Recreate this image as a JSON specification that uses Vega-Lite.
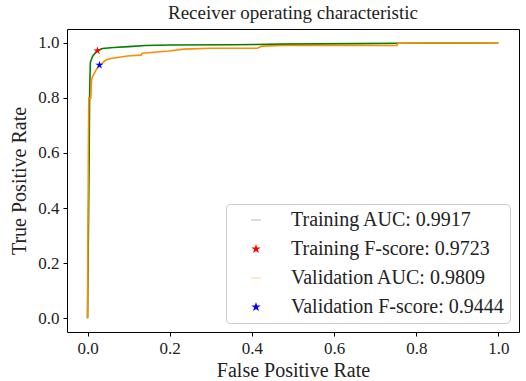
{
  "$schema": "https://vega.github.io/schema/vega-lite/v6.json",
  "width": 452,
  "height": 303,
  "autosize": {"type": "none"},
  "padding": {"left": 67, "top": 29, "right": 7, "bottom": 49},
  "background": "white",
  "title": {"text": "Receiver operating characteristic", "font": "Liberation Serif", "fontSize": 19, "fontWeight": "normal", "color": "#222", "offset": 6},
  "config": {
    "view": {"stroke": "black", "strokeWidth": 1},
    "axis": {"grid": false, "labelFont": "Liberation Serif", "titleFont": "Liberation Serif", "labelFontSize": 17, "titleFontSize": 20, "titleFontWeight": "normal", "labelColor": "#222", "titleColor": "#222", "tickColor": "black", "domain": false, "tickSize": 4, "labelPadding": 4}
  },
  "layer": [
    {
      "data": {"values": [
      {"series": "Training AUC: 0.9917", "fpr": 0.0, "tpr": 0.0},
      {"series": "Training AUC: 0.9917", "fpr": 0.004, "tpr": 0.6},
      {"series": "Training AUC: 0.9917", "fpr": 0.005, "tpr": 0.8},
      {"series": "Training AUC: 0.9917", "fpr": 0.006, "tpr": 0.88},
      {"series": "Training AUC: 0.9917", "fpr": 0.007, "tpr": 0.93},
      {"series": "Training AUC: 0.9917", "fpr": 0.012, "tpr": 0.95},
      {"series": "Training AUC: 0.9917", "fpr": 0.018, "tpr": 0.962},
      {"series": "Training AUC: 0.9917", "fpr": 0.024, "tpr": 0.971},
      {"series": "Training AUC: 0.9917", "fpr": 0.036, "tpr": 0.979},
      {"series": "Training AUC: 0.9917", "fpr": 0.064, "tpr": 0.983},
      {"series": "Training AUC: 0.9917", "fpr": 0.1, "tpr": 0.986},
      {"series": "Training AUC: 0.9917", "fpr": 0.14, "tpr": 0.99},
      {"series": "Training AUC: 0.9917", "fpr": 0.2, "tpr": 0.992},
      {"series": "Training AUC: 0.9917", "fpr": 0.35, "tpr": 0.993},
      {"series": "Training AUC: 0.9917", "fpr": 0.47, "tpr": 0.995},
      {"series": "Training AUC: 0.9917", "fpr": 0.66, "tpr": 0.997},
      {"series": "Training AUC: 0.9917", "fpr": 0.76, "tpr": 0.998},
      {"series": "Training AUC: 0.9917", "fpr": 1.0, "tpr": 1.0},
      {"series": "Validation AUC: 0.9809", "fpr": 0.0, "tpr": 0.0},
      {"series": "Validation AUC: 0.9809", "fpr": 0.002, "tpr": 0.6},
      {"series": "Validation AUC: 0.9809", "fpr": 0.003, "tpr": 0.8},
      {"series": "Validation AUC: 0.9809", "fpr": 0.008, "tpr": 0.8},
      {"series": "Validation AUC: 0.9809", "fpr": 0.01, "tpr": 0.87},
      {"series": "Validation AUC: 0.9809", "fpr": 0.02, "tpr": 0.9},
      {"series": "Validation AUC: 0.9809", "fpr": 0.029, "tpr": 0.918},
      {"series": "Validation AUC: 0.9809", "fpr": 0.036, "tpr": 0.926},
      {"series": "Validation AUC: 0.9809", "fpr": 0.044, "tpr": 0.937},
      {"series": "Validation AUC: 0.9809", "fpr": 0.056, "tpr": 0.943},
      {"series": "Validation AUC: 0.9809", "fpr": 0.097, "tpr": 0.952},
      {"series": "Validation AUC: 0.9809", "fpr": 0.13, "tpr": 0.955},
      {"series": "Validation AUC: 0.9809", "fpr": 0.133, "tpr": 0.962},
      {"series": "Validation AUC: 0.9809", "fpr": 0.198, "tpr": 0.97},
      {"series": "Validation AUC: 0.9809", "fpr": 0.234, "tpr": 0.977},
      {"series": "Validation AUC: 0.9809", "fpr": 0.3, "tpr": 0.98},
      {"series": "Validation AUC: 0.9809", "fpr": 0.413, "tpr": 0.98},
      {"series": "Validation AUC: 0.9809", "fpr": 0.425, "tpr": 0.988},
      {"series": "Validation AUC: 0.9809", "fpr": 0.474, "tpr": 0.99},
      {"series": "Validation AUC: 0.9809", "fpr": 0.753, "tpr": 0.99},
      {"series": "Validation AUC: 0.9809", "fpr": 0.755, "tpr": 0.998},
      {"series": "Validation AUC: 0.9809", "fpr": 1.0, "tpr": 1.0}
      ]},
      "mark": {"type": "line", "strokeWidth": 1.6},
      "encoding": {
        "x": {"field": "fpr", "type": "quantitative", "scale": {"domain": [-0.05, 1.05], "nice": false, "zero": false}, "axis": {"values": [0, 0.2, 0.4, 0.6, 0.8, 1.0], "format": ".1f", "title": "False Positive Rate"}},
        "y": {"field": "tpr", "type": "quantitative", "scale": {"domain": [-0.05, 1.05], "nice": false, "zero": false}, "axis": {"values": [0, 0.2, 0.4, 0.6, 0.8, 1.0], "format": ".1f", "title": "True Positive Rate", "titlePadding": 8}},
        "color": {"field": "series", "type": "nominal", "scale": {"domain": ["Training AUC: 0.9917", "Validation AUC: 0.9809"], "range": ["green", "darkorange"]}, "legend": null}
      }
    },
    {
      "data": {"values": [
        {"series": "Training F-score: 0.9723", "fpr": 0.024, "tpr": 0.971},
        {"series": "Validation F-score: 0.9444", "fpr": 0.029, "tpr": 0.919}
      ]},
      "mark": {"type": "point", "filled": true, "size": 70, "opacity": 1},
      "encoding": {
        "x": {"field": "fpr", "type": "quantitative"},
        "y": {"field": "tpr", "type": "quantitative"},
        "fill": {"field": "series", "type": "nominal", "scale": {"domain": ["Training AUC: 0.9917", "Training F-score: 0.9723", "Validation AUC: 0.9809", "Validation F-score: 0.9444"], "range": ["green", "red", "darkorange", "blue"]}, "legend": {
          "title": null, "orient": "bottom-right", "offset": 9,
          "labelFont": "Liberation Serif", "labelFontSize": 20, "labelColor": "#222", "labelLimit": 400,
          "strokeColor": "#cccccc", "fillColor": "white", "cornerRadius": 4, "padding": 6,
          "symbolSize": 100, "rowPadding": 9, "symbolOffset": 14, "labelOffset": 25,
          "encode": {"symbols": {"update": {
            "size": {"signal": "indexof(datum.value, 'AUC') >= 0 ? 1764 : 40"},
            "opacity": {"value": 1}
          }}}
        }},
        "shape": {"field": "series", "type": "nominal", "scale": {"domain": ["Training AUC: 0.9917", "Training F-score: 0.9723", "Validation AUC: 0.9809", "Validation F-score: 0.9444"], "range": ["M-1,-0.04L1,-0.04L1,0.04L-1,0.04Z", "M0,-1L0.2245,-0.309L0.951,-0.309L0.363,0.118L0.588,0.809L0,0.382L-0.588,0.809L-0.363,0.118L-0.951,-0.309L-0.2245,-0.309Z", "M-1,-0.04L1,-0.04L1,0.04L-1,0.04Z", "M0,-1L0.2245,-0.309L0.951,-0.309L0.363,0.118L0.588,0.809L0,0.382L-0.588,0.809L-0.363,0.118L-0.951,-0.309L-0.2245,-0.309Z"]}}
      }
    }
  ]
}
